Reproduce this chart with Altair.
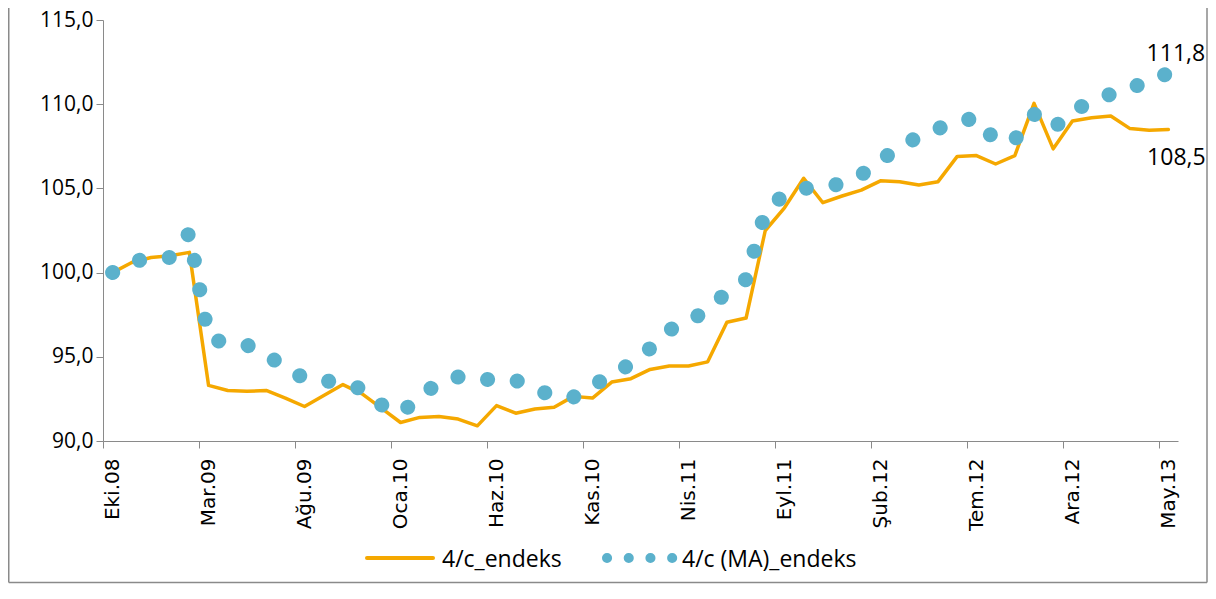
import altair as alt
import pandas as pd

# ---- data ----
months = ["Eki.08", "Kas.08", "Ara.08",
          "Oca.09", "Şub.09", "Mar.09", "Nis.09", "May.09", "Haz.09", "Tem.09", "Ağu.09", "Eyl.09", "Eki.09", "Kas.09", "Ara.09",
          "Oca.10", "Şub.10", "Mar.10", "Nis.10", "May.10", "Haz.10", "Tem.10", "Ağu.10", "Eyl.10", "Eki.10", "Kas.10", "Ara.10",
          "Oca.11", "Şub.11", "Mar.11", "Nis.11", "May.11", "Haz.11", "Tem.11", "Ağu.11", "Eyl.11", "Eki.11", "Kas.11", "Ara.11",
          "Oca.12", "Şub.12", "Mar.12", "Nis.12", "May.12", "Haz.12", "Tem.12", "Ağu.12", "Eyl.12", "Eki.12", "Kas.12", "Ara.12",
          "Oca.13", "Şub.13", "Mar.13", "Nis.13", "May.13"]

label_every = 5  # a label (and a tick) on every 5th month: Eki.08, Mar.09, ..., May.13

endeks = [100.0, 100.6, 100.9, 101.0, 101.2, 93.3, 93.0, 92.95, 93.0, 92.55,
          92.05, 92.7, 93.35, 92.8, 91.95, 91.1, 91.4, 91.45, 91.3, 90.9,
          92.1, 91.65, 91.9, 92.0, 92.65, 92.55, 93.5, 93.7, 94.25, 94.45,
          94.45, 94.7, 97.05, 97.3, 102.5, 103.85, 105.6, 104.15, 104.55, 104.9,
          105.45, 105.4, 105.2, 105.4, 106.9, 106.95, 106.45, 106.95, 110.05, 107.35,
          109.0, 109.2, 109.3, 108.55, 108.45, 108.5]

ma = [100.0, 100.65, 100.85, 100.9, 102.35, 96.1, 95.8, 95.7, 95.1, 94.4,
      93.7, 93.6, 93.4, 93.1, 92.15, 91.65, 92.6, 93.5, 93.8, 93.6,
      93.7, 93.6, 93.1, 92.65, 92.6, 93.3, 93.9, 94.6, 95.5, 96.6,
      97.0, 97.9, 98.8, 99.6, 103.6, 104.65, 105.0, 105.05, 105.3, 105.8,
      106.7, 107.4, 108.1, 108.55, 108.95, 109.2, 107.8, 107.9, 109.4, 108.55,
      109.6, 110.15, 110.6, 110.85, 111.55, 111.8]

series_names = ["4/c_endeks", "4/c (MA)_endeks"]
series_colors = ["#F5A800", "#5BB1CC"]
y_ticks = [90, 95, 100, 105, 110, 115]

# ---- tables ----
n = len(months)
idx = list(range(n))
df = pd.DataFrame({
    "idx": idx + idx,
    "month": months + months,
    "value": endeks + ma,
    "series": [series_names[0]] * n + [series_names[1]] * n,
})
last_ma = pd.DataFrame({"idx": [n - 1], "value": [ma[-1]]})
last_end = pd.DataFrame({"idx": [n - 1], "value": [endeks[-1]]})
one = pd.DataFrame({"a": [0]})

W, H = 1075, 421
PAD = {"left": 95, "top": 12, "right": 30, "bottom": 143}
RIGHT_EDGE = W + PAD["right"] - 1.0
GRAY = "#8a8a8a"
NUMFONT = "Open Sans"

# month axis: ticks on the boundaries before every 5th month, labels centred on that month
tick_vals = [i - 0.5 for i in idx[::label_every]]
months_js = "[" + ",".join("'" + m + "'" for m in months) + "]"
half_step = W / n / 2

x_enc = alt.X(
    "idx:Q",
    scale=alt.Scale(domain=[-0.5, n - 0.5], nice=False, zero=False),
    axis=alt.Axis(
        values=tick_vals, labelExpr=months_js + "[round(datum.value + 0.5)]",
        labelOffset=half_step, labelAngle=-90, labelAlign="right",
        labelBaseline="middle", labelFont="DejaVu Sans", labelFontSize=20,
        labelColor="black", labelPadding=10, tickSize=7, tickColor=GRAY,
        domainColor=GRAY, grid=False, title=None, labelOverlap=False,
        labelFlush=False, labelBound=False,
    ),
)
y_enc = alt.Y(
    "value:Q",
    scale=alt.Scale(domain=[90, 115], nice=False, zero=False),
    axis=alt.Axis(
        values=y_ticks, labelExpr="replace(format(datum.value, '.1f'), '.', ',')",
        labelFont=NUMFONT, labelFontSize=21, labelColor="black", labelPadding=3,
        tickSize=7, tickColor=GRAY, domainColor=GRAY, grid=False, title=None,
    ),
)

color_scale = alt.Scale(domain=series_names, range=series_colors)

base = alt.Chart(df)

line_end = base.transform_filter(
    alt.datum.series == series_names[0]
).mark_line(strokeWidth=3.5, strokeCap="round", strokeJoin="round").encode(
    x=x_enc, y=y_enc, color=alt.Color("series:N", scale=color_scale, legend=None)
)

line_ma = base.transform_filter(
    alt.datum.series == series_names[1]
).mark_line(strokeWidth=15, strokeDash=[0.1, 29.8], strokeCap="round").encode(
    x=x_enc, y=y_enc, color=alt.Color("series:N", scale=color_scale, legend=None)
)

lab_expr = "replace(format(datum.value, '.1f'), '.', ',')"
text_ma = alt.Chart(last_ma).transform_calculate(lab=lab_expr).mark_text(
    font=NUMFONT, fontSize=23, color="black", align="center", baseline="alphabetic",
    dx=7.5, dy=-13,
).encode(x=alt.X("idx:Q"), y=alt.Y("value:Q"), text="lab:N")

text_end = alt.Chart(last_end).transform_calculate(lab=lab_expr).mark_text(
    font=NUMFONT, fontSize=23, color="black", align="center", baseline="alphabetic",
    dx=8, dy=36,
).encode(x=alt.X("idx:Q"), y=alt.Y("value:Q"), text="lab:N")

# ---- legend (bottom centre): line sample + dotted sample with their labels ----
LEG_Y = 538
leg_line = alt.Chart(one).mark_rule(color=series_colors[0], strokeWidth=4, strokeCap="round").encode(
    x=alt.value(264), x2=alt.value(330), y=alt.value(LEG_Y))
leg_text1 = alt.Chart(one).mark_text(
    font=NUMFONT, fontSize=23, color="black", align="left", baseline="alphabetic"
).encode(x=alt.value(339), y=alt.value(LEG_Y + 8.5), text=alt.value(series_names[0]))
leg_dots = alt.Chart(one).mark_rule(
    color=series_colors[1], strokeWidth=10, strokeCap="round", strokeDash=[0.1, 21.6]
).encode(x=alt.value(504), x2=alt.value(570), y=alt.value(LEG_Y))
leg_text2 = alt.Chart(one).mark_text(
    font=NUMFONT, fontSize=23, color="black", align="left", baseline="alphabetic"
).encode(x=alt.value(579), y=alt.value(LEG_Y + 8.5), text=alt.value(series_names[1]))

# ---- outer frame of the chart area ----
border_l = alt.Chart(one).mark_rule(color=GRAY, strokeWidth=1.5).encode(
    x=alt.value(-94.25), y=alt.value(-12), y2=alt.value(562.5))
border_r = alt.Chart(one).mark_rule(color=GRAY, strokeWidth=1.5).encode(
    x=alt.value(RIGHT_EDGE), y=alt.value(-12), y2=alt.value(562.5))
border_b = alt.Chart(one).mark_rule(color=GRAY, strokeWidth=1.5).encode(
    x=alt.value(-94.25), x2=alt.value(RIGHT_EDGE), y=alt.value(562.5))

chart = alt.layer(
    line_end, line_ma, text_ma, text_end,
    leg_line, leg_text1, leg_dots, leg_text2,
    border_l, border_r, border_b
).properties(
    width=W, height=H, padding=PAD,
    autosize=alt.AutoSizeParams(type="none"),
    background="white",
).configure_view(stroke=None)

chart.save("out.html", embed_options={"renderer": "svg", "actions": False})
